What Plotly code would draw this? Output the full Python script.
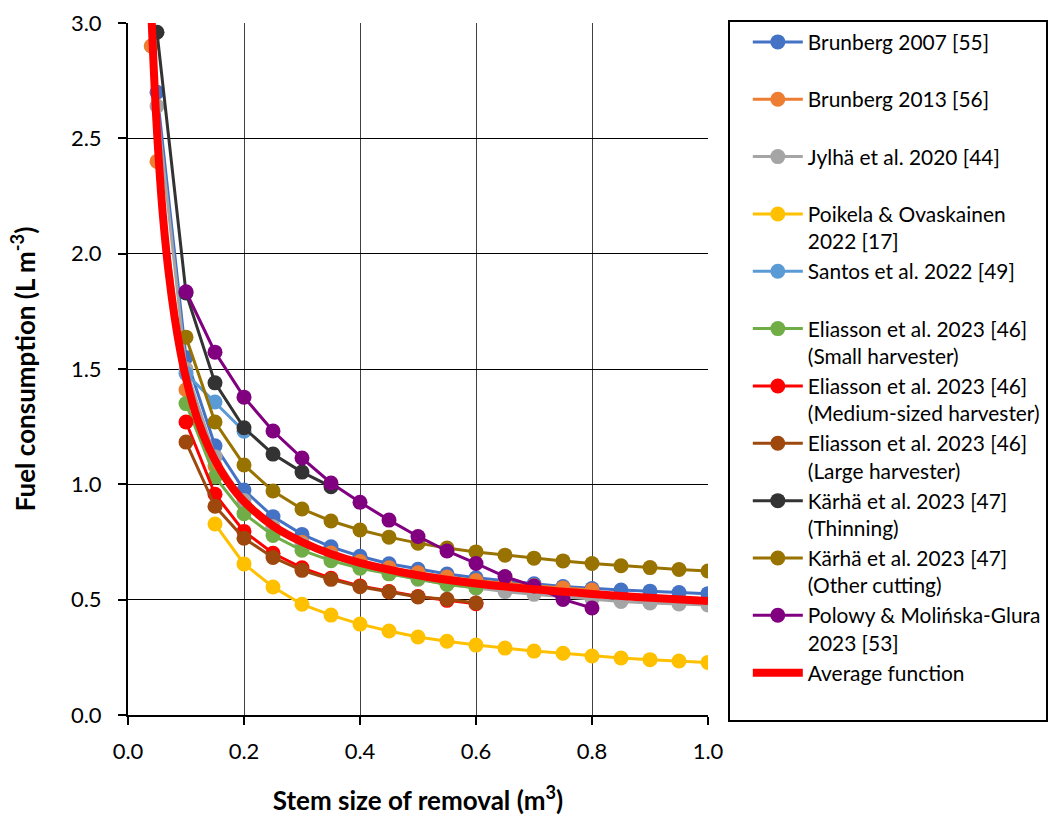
import plotly.graph_objects as go

# ---------------- data ----------------
x_step = [0.05, 0.10, 0.15, 0.20, 0.25, 0.30, 0.35, 0.40, 0.45, 0.50,
          0.55, 0.60, 0.65, 0.70, 0.75, 0.80, 0.85, 0.90, 0.95, 1.00]

brunberg2007_x = x_step
brunberg2007_y = [2.70, 1.55, 1.167, 0.975, 0.86, 0.783, 0.729, 0.688, 0.656, 0.632,
                  0.611, 0.595, 0.581, 0.569, 0.557, 0.548, 0.542, 0.537, 0.531, 0.526]

brunberg2013_x = [0.04, 0.05, 0.10, 0.15, 0.20, 0.25, 0.30, 0.35, 0.40, 0.45,
                  0.50, 0.55, 0.60, 0.65, 0.70, 0.75, 0.80]
brunberg2013_y = [2.90, 2.40, 1.41, 1.08, 0.915, 0.815, 0.749, 0.702, 0.665, 0.638,
                  0.617, 0.598, 0.583, 0.571, 0.560, 0.551, 0.542]

jylha_x = x_step
jylha_y = [2.64, 1.50, 1.12, 0.93, 0.816, 0.74, 0.686, 0.645, 0.613, 0.588,
           0.567, 0.55, 0.535, 0.523, 0.512, 0.503, 0.492, 0.486, 0.481, 0.477]

poikela_x = x_step[2:]
poikela_y = [0.828, 0.655, 0.555, 0.48, 0.433, 0.394, 0.364, 0.338, 0.32, 0.303,
             0.29, 0.277, 0.268, 0.256, 0.247, 0.24, 0.234, 0.228]

santos_x = [0.10, 0.15, 0.20]
santos_y = [1.48, 1.357, 1.23]

eliasson_small_x = x_step[1:12]
eliasson_small_y = [1.35, 1.032, 0.873, 0.778, 0.714, 0.669, 0.636, 0.612, 0.591, 0.566, 0.552]

eliasson_medium_x = x_step[1:12]
eliasson_medium_y = [1.27, 0.957, 0.796, 0.701, 0.638, 0.593, 0.559, 0.535, 0.514, 0.497, 0.482]

eliasson_large_x = x_step[1:12]
eliasson_large_y = [1.183, 0.905, 0.766, 0.683, 0.627, 0.588, 0.556, 0.533, 0.512, 0.502, 0.486]

karha_thin_x = x_step[0:7]
karha_thin_y = [2.96, 1.83, 1.44, 1.245, 1.131, 1.053, 0.99]

karha_other_x = x_step[1:]
karha_other_y = [1.638, 1.27, 1.084, 0.971, 0.893, 0.841, 0.802, 0.771, 0.745, 0.724,
                 0.707, 0.693, 0.68, 0.668, 0.657, 0.647, 0.639, 0.631, 0.624]

polowy_x = x_step[1:16]
polowy_y = [1.835, 1.573, 1.378, 1.231, 1.114, 1.006, 0.922, 0.845, 0.774, 0.711,
            0.657, 0.600, 0.559, 0.501, 0.464]

average_x = [0.036, 0.040, 0.045, 0.050, 0.060, 0.070, 0.080, 0.090, 0.100, 0.120,
             0.140, 0.160, 0.180, 0.200, 0.250, 0.300, 0.350, 0.400, 0.500, 0.600,
             0.700, 0.800, 0.900, 1.000]
average_y = [3.36, 3.06, 2.77, 2.53, 2.17, 1.92, 1.73, 1.58, 1.46, 1.28,
             1.155, 1.06, 0.985, 0.926, 0.82, 0.75, 0.698, 0.66, 0.606, 0.57,
             0.545, 0.525, 0.508, 0.494]

series = [
    ("Brunberg 2007 [55]<br> ", brunberg2007_x, brunberg2007_y, "#4472C4"),
    ("Brunberg 2013 [56]<br> ", brunberg2013_x, brunberg2013_y, "#ED7D31"),
    ("Jylhä et al. 2020 [44]<br> ", jylha_x, jylha_y, "#A5A5A5"),
    ("Poikela &amp; Ovaskainen<br>2022 [17]", poikela_x, poikela_y, "#FFC000"),
    ("Santos et al. 2022 [49]<br> ", santos_x, santos_y, "#5B9BD5"),
    ("Eliasson et al. 2023 [46]<br>(Small harvester)", eliasson_small_x, eliasson_small_y, "#70AD47"),
    ("Eliasson et al. 2023 [46]<br>(Medium-sized harvester)", eliasson_medium_x, eliasson_medium_y, "#FF0000"),
    ("Eliasson et al. 2023 [46]<br>(Large harvester)", eliasson_large_x, eliasson_large_y, "#9E480E"),
    ("Kärhä et al. 2023 [47]<br>(Thinning)", karha_thin_x, karha_thin_y, "#333333"),
    ("Kärhä et al. 2023 [47]<br>(Other cutting)", karha_other_x, karha_other_y, "#997300"),
    ("Polowy &amp; Molińska-Glura<br>2023 [53]", polowy_x, polowy_y, "#800080"),
]

fig = go.Figure()
for i, (name, xs, ys, col) in enumerate(series):
    fig.add_trace(go.Scatter(
        x=xs, y=ys, name=name, mode="lines+markers", legendgroup=f"g{i}",
        line=dict(color=col, width=3),
        marker=dict(color=col, size=15, line=dict(width=0)),
    ))

fig.add_trace(go.Scatter(
    x=average_x, y=average_y, name="Average function<br> ", mode="lines",
    legendgroup="avg", line=dict(color="#FF0000", width=8, shape="spline"),
))

FONT = "Lato"
fig.update_layout(
    width=1064, height=816,
    margin=dict(l=128, r=356, t=23, b=101),
    paper_bgcolor="white", plot_bgcolor="white",
    font=dict(family=FONT, size=21, color="black"),
    showlegend=True,
    legend=dict(
        x=1.0345, xanchor="left", y=1.0043, yanchor="top",
        bgcolor="white", bordercolor="black", borderwidth=1.8,
        font=dict(family=FONT, size=20.9, color="black"),
        valign="top", tracegroupgap=0, itemwidth=50, indentation=18,
        entrywidth=256, maxheight=1.0,
    ),
    xaxis=dict(
        range=[0, 1.0], dtick=0.2, tick0=0, tickformat=".1f",
        showgrid=True, gridcolor="#404040", gridwidth=1,
        showline=True, linecolor="black", linewidth=2,
        ticks="outside", ticklen=8, tickcolor="black", tickwidth=1.5,
        zeroline=False, ticklabelstandoff=8,
        tickfont=dict(family=FONT, size=22),
        title=dict(text="<b>Stem size of removal (m<sup>3</sup>)</b>",
                   font=dict(family=FONT, size=26), standoff=30),
        automargin=False,
    ),
    yaxis=dict(
        range=[0, 3.0], dtick=0.5, tick0=0, tickformat=".1f",
        showgrid=True, gridcolor="black", gridwidth=1,
        showline=True, linecolor="black", linewidth=2,
        ticks="outside", ticklen=8, tickcolor="black", tickwidth=1.5,
        zeroline=False, ticklabelstandoff=12,
        tickfont=dict(family=FONT, size=22),
        title=dict(text="<b>Fuel consumption (L m<sup>-3</sup>)</b>",
                   font=dict(family=FONT, size=26), standoff=28),
        automargin=False,
    ),
)

fig.write_html("out.html", config={"displayModeBar": False},
               post_script="document.body.style.margin='0';")
